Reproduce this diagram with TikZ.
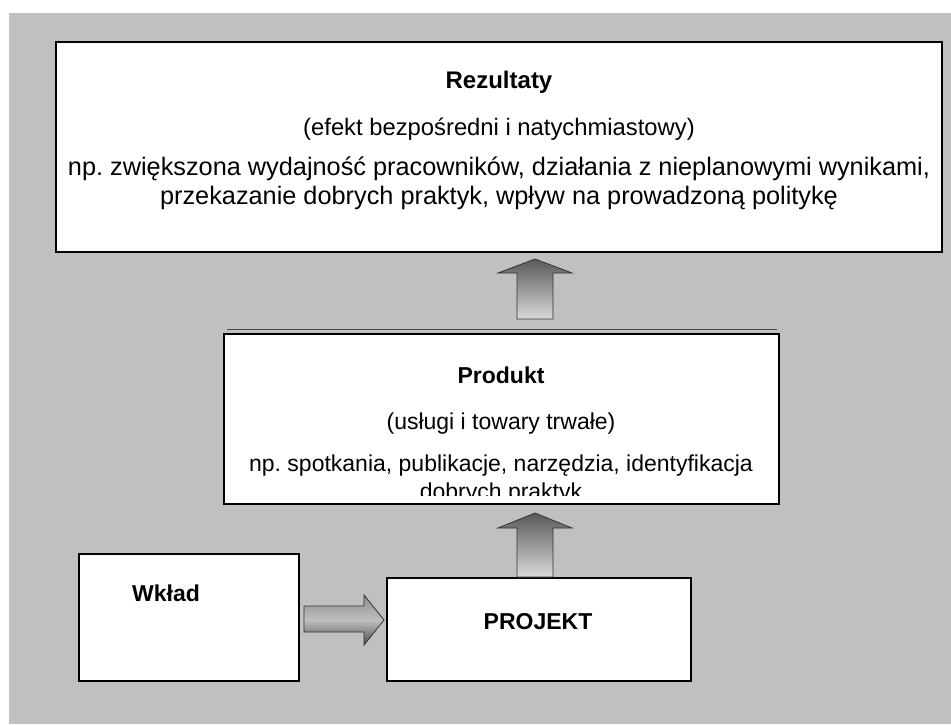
\documentclass[tikz,border=0pt]{standalone}
\usepackage{fontspec}
\setmainfont{Liberation Sans}
\frenchspacing
\begin{document}
\begin{tikzpicture}[x=1pt,y=-1pt,
  box/.style={draw=black,line width=2.6pt,fill=white,inner sep=0pt},
  txt/.style={inner sep=0pt,anchor=base,font=\fontsize{23}{28}\selectfont},
  bigtxt/.style={inner sep=0pt,anchor=base,font=\fontsize{25.3}{29}\selectfont},
  btxt/.style={txt,font=\fontsize{23}{28}\selectfont\bfseries},
  uparrow/.style={draw=black!80,line width=0.8pt,top color=black!65,bottom color=black!15},
  rarrow/.style={draw=black!80,line width=0.8pt,top color=black!45,bottom color=black!70,middle color=black!25}]
\useasboundingbox (0,0) rectangle (951,724);
\fill[fill={rgb,255:red,192;green,192;blue,192}] (9,13) rectangle (951,724);
% boxes
\node[box,minimum width=886,minimum height=210] (rez) at (499,147) {};
\draw[black!70,line width=0.6pt] (227,329.5) -- (777,329.5);
\node[box,minimum width=555,minimum height=170] (prod) at (501.5,419) {};
\node[box,minimum width=220,minimum height=127] (wklad) at (189,617.5) {};
\node[box,minimum width=304,minimum height=103] (proj) at (539,629.5) {};
% texts
\node[btxt,font=\fontsize{24}{28}\selectfont\bfseries] (t1) at (499,88.5) {Rezultaty};
\node[txt,font=\fontsize{23.8}{28}\selectfont] (t2) at (499,135) {(efekt bezpośredni i natychmiastowy)};
\node[bigtxt] (t3) at (499,175) {np. zwiększona wydajność pracowników, działania z nieplanowymi wynikami,};
\node[bigtxt] (t4) at (499,204) {przekazanie dobrych praktyk, wpływ na prowadzoną politykę};
\node[btxt] (p1) at (501,383) {Produkt};
\node[txt] (p2) at (501,429) {(usługi i towary trwałe)};
\node[txt] (p3) at (501,471) {np. spotkania, publikacje, narzędzia, identyfikacja};
\begin{scope}
\clip (226,440) rectangle (778,495);
\node[txt] (p4) at (501,499) {dobrych praktyk};
\end{scope}
\node[btxt] (w1) at (166,601) {Wkład};
\node[btxt] (j1) at (538,629) {PROJEKT};
% block arrows
\path[uparrow] (517,319) -- (517,273) -- (498,273) -- (535,259) -- (572,273) -- (553,273) -- (553,319) -- cycle;
\path[uparrow] (517,577) -- (517,528) -- (498,528) -- (535,513) -- (572,528) -- (553,528) -- (553,577) -- cycle;
\path[rarrow] (304,606) -- (364,606) -- (364,595) -- (384,620) -- (364,645) -- (364,632) -- (304,632) -- cycle;
\end{tikzpicture}
\end{document}
